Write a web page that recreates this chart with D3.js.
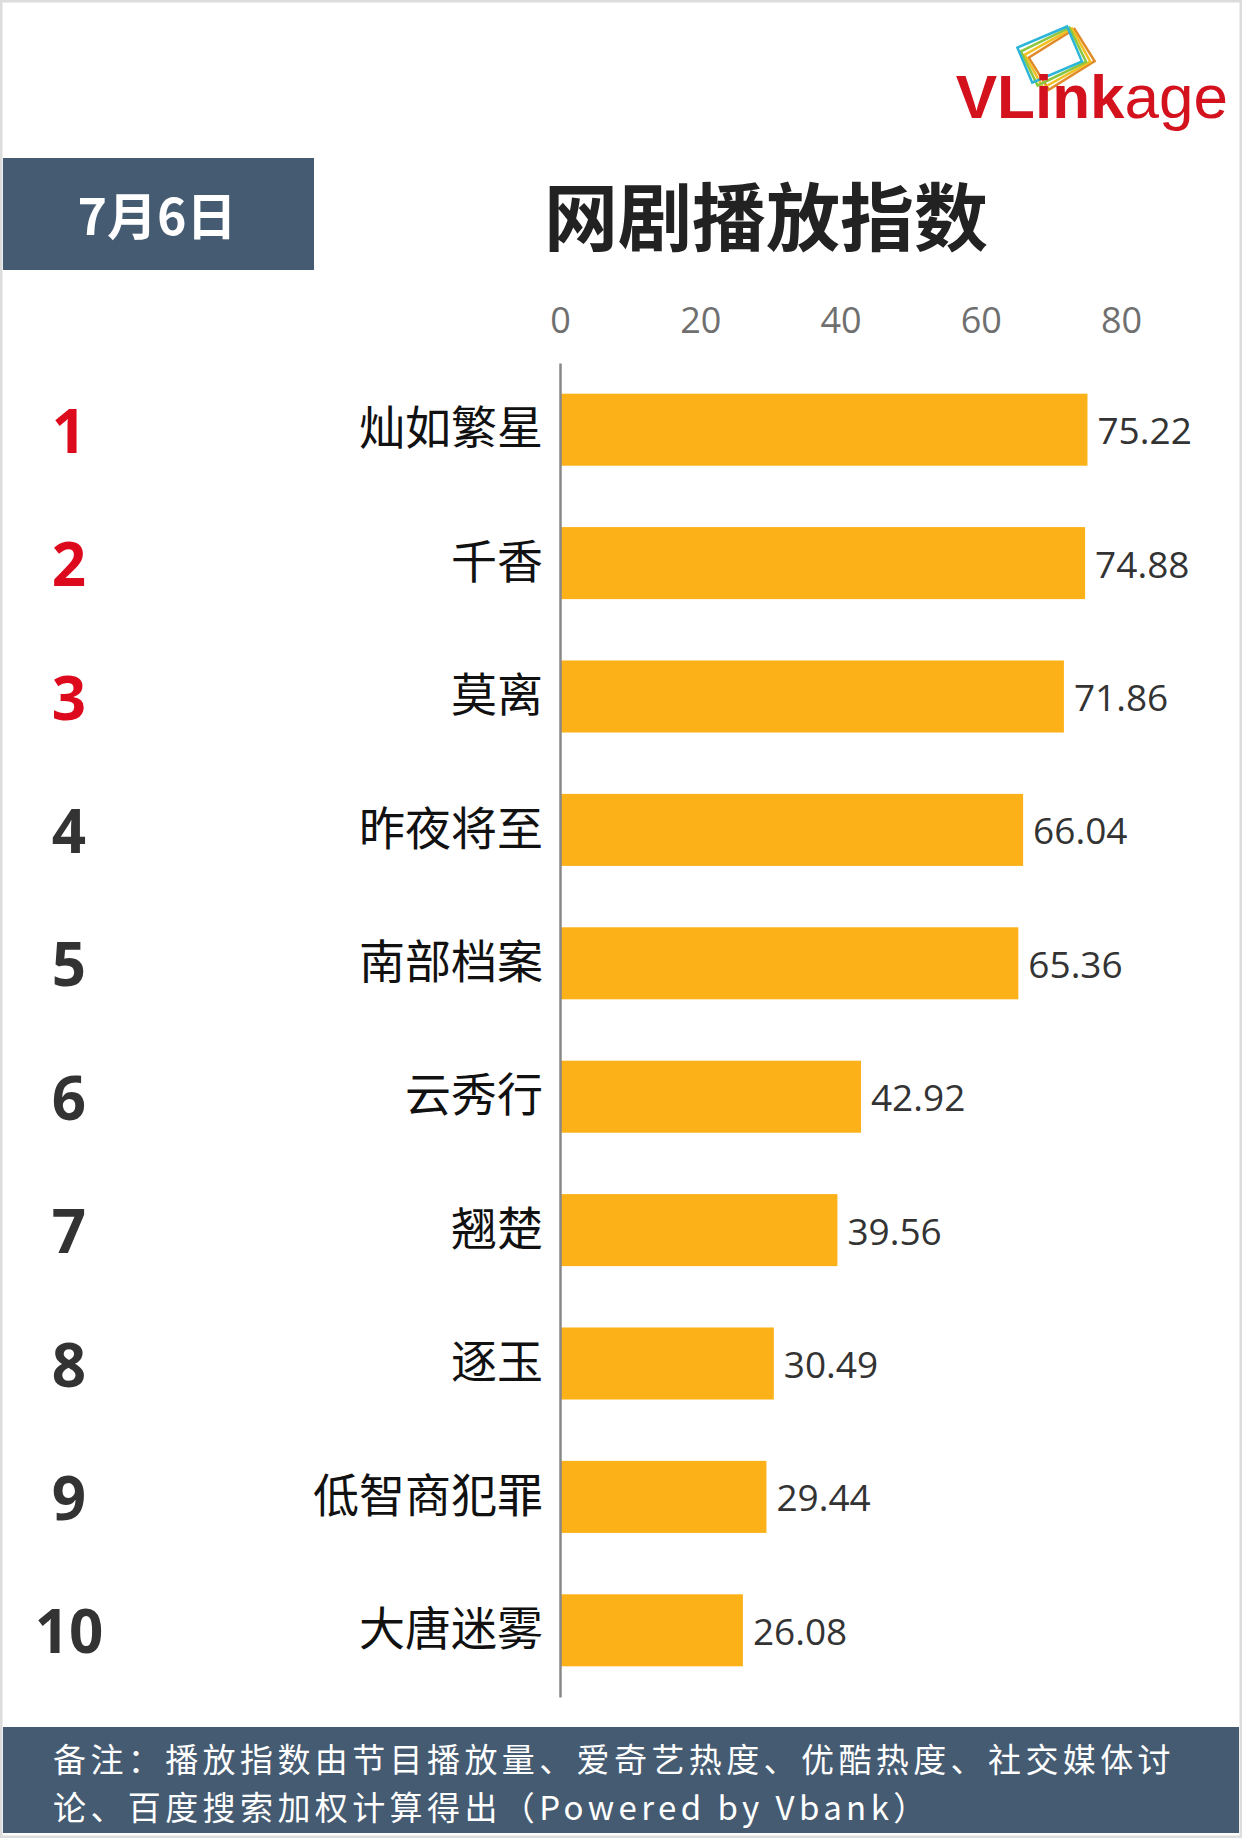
<!DOCTYPE html>
<html>
<head>
<meta charset="utf-8">
<script src="https://cdn.jsdelivr.net/npm/d3@7"></script>
<style>
  body { margin: 0; background: #fff; }
  svg { display: block; }
</style>
</head>
<body>
<svg id="chart" width="1242" height="1838"></svg>
<script>
// chart data
const ranks = ['1', '2', '3', '4', '5', '6', '7', '8', '9', '10'];
const shows = ['灿如繁星', '千香', '莫离', '昨夜将至', '南部档案', '云秀行', '翘楚', '逐玉', '低智商犯罪', '大唐迷雾'];
const values = [75.22, 74.88, 71.86, 66.04, 65.36, 42.92, 39.56, 30.49, 29.44, 26.08];
const xTicks = [0, 20, 40, 60, 80];
const dateLabel = '7月6日';
const title = '网剧播放指数';
const noteLines = ['备注：播放指数由节目播放量、爱奇艺热度、优酷热度、社交媒体讨', '论、百度搜索加权计算得出（Powered by Vbank）'];

const svg = d3.select('#chart');
const width = +svg.attr('width');
const height = +svg.attr('height');
const slate = '#455b72';
const cjk = '"Noto Sans CJK SC", "Noto Sans", sans-serif';
const num = '"Open Sans", "Noto Sans", sans-serif';

// light frame
svg.append('rect')
    .attr('x', 1).attr('y', 1)
    .attr('width', width - 2).attr('height', height - 2)
    .attr('fill', '#fff')
    .attr('stroke', '#dcdcdc')
    .attr('stroke-width', 3);

// logo
const logo = svg.append('g').attr('transform', 'translate(1062,58)');
['#e08a2a', '#f0c020', '#8cc63f', '#2bb5d8'].forEach((c, i) => {
  logo.append('rect')
      .attr('x', -28 + i * -3).attr('y', -18 + i * -3)
      .attr('width', 54).attr('height', 38)
      .attr('fill', 'none')
      .attr('stroke', c)
      .attr('stroke-width', 2.5)
      .attr('transform', `rotate(${-32 + i * 3})`);
});
const logoText = svg.append('text')
    .attr('x', 1228).attr('y', 118)
    .attr('text-anchor', 'end')
    .attr('fill', '#d4121e')
    .style('font-family', '"Liberation Sans", Arial, sans-serif')
    .style('font-size', '62px');
logoText.append('tspan').attr('font-weight', 700).text('VLink');
logoText.append('tspan').attr('font-weight', 400).text('age');

// date box
svg.append('rect')
    .attr('x', 3).attr('y', 158)
    .attr('width', 311).attr('height', 112)
    .attr('fill', slate);
svg.append('text')
    .attr('x', 157).attr('y', 213)
    .attr('text-anchor', 'middle')
    .attr('dominant-baseline', 'central')
    .attr('fill', '#fff')
    .style('font-family', cjk)
    .style('font-weight', 700)
    .style('font-size', '50px')
    .text(dateLabel);

// title
svg.append('text')
    .attr('x', 766).attr('y', 212)
    .attr('text-anchor', 'middle')
    .attr('dominant-baseline', 'central')
    .attr('fill', '#222')
    .style('font-family', cjk)
    .style('font-weight', 700)
    .style('font-size', '74px')
    .text(title);

// scales
const x = d3.scaleLinear()
    .domain([0, 80])
    .range([560, 1121]);

const y = d3.scaleBand()
    .domain(shows)
    .range([363, 1697])
    .paddingInner(0.46)
    .paddingOuter(0.23);

// top axis numbers
const xAxis = svg.append('g')
    .attr('transform', 'translate(0,333)')
    .call(d3.axisTop(x).tickValues(xTicks).tickSize(0).tickPadding(0));
xAxis.select('.domain').remove();
xAxis.selectAll('text')
    .attr('fill', '#6f6f6f')
    .style('font-family', num)
    .style('font-size', '36px');

// bars
svg.append('g')
  .selectAll('rect')
  .data(values)
  .join('rect')
    .attr('x', x(0))
    .attr('y', (d, i) => y(shows[i]))
    .attr('width', d => x(d) - x(0))
    .attr('height', y.bandwidth())
    .attr('fill', '#fdb119');

// value labels
svg.append('g')
  .selectAll('text')
  .data(values)
  .join('text')
    .attr('x', d => x(d) + 10)
    .attr('y', (d, i) => y(shows[i]) + y.bandwidth() / 2)
    .attr('dominant-baseline', 'central')
    .attr('fill', '#333')
    .style('font-family', num)
    .style('font-size', '37px')
    .text(d => d.toFixed(2));

// left axis: vertical line + show names
const yAxis = svg.append('g')
    .attr('transform', `translate(${x(0)},0)`)
    .call(d3.axisLeft(y).tickSize(0).tickSizeOuter(0).tickPadding(17));
yAxis.select('.domain')
    .attr('stroke', '#888')
    .attr('stroke-width', 2.5);
yAxis.selectAll('text')
    .attr('fill', '#111')
    .style('font-family', cjk)
    .style('font-size', '46px');

// rank numbers
svg.append('g')
  .selectAll('text')
  .data(ranks)
  .join('text')
    .attr('x', 69)
    .attr('y', (d, i) => y(shows[i]) + y.bandwidth() / 2)
    .attr('text-anchor', 'middle')
    .attr('dominant-baseline', 'central')
    .attr('fill', (d, i) => i < 3 ? '#dd0a1d' : '#333')
    .style('font-family', '"Open Sans", "Liberation Sans", sans-serif')
    .style('font-weight', 700)
    .style('font-size', '60px')
    .text(d => d);

// footer note
svg.append('rect')
    .attr('x', 3).attr('y', 1727)
    .attr('width', width - 6).attr('height', 106)
    .attr('fill', slate);
svg.append('g')
  .selectAll('text')
  .data(noteLines)
  .join('text')
    .attr('x', 53)
    .attr('y', (d, i) => 1758 + i * 48)
    .attr('dominant-baseline', 'central')
    .attr('fill', '#fff')
    .style('font-family', cjk)
    .style('font-size', '33px')
    .style('letter-spacing', '4.4px')
    .text(d => d);
</script>
</body>
</html>
